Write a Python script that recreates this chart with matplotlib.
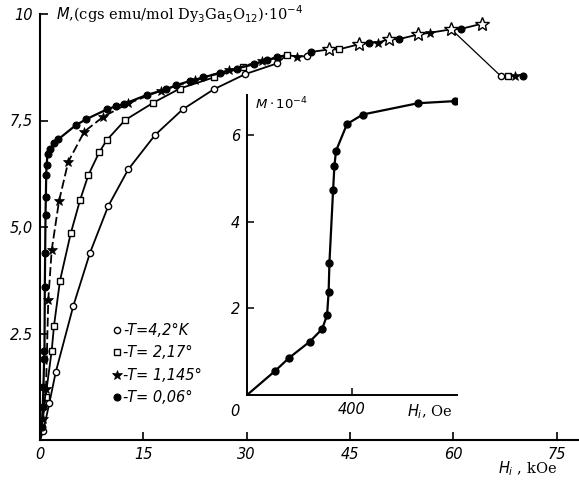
import matplotlib
matplotlib.use('Agg')
import matplotlib.pyplot as plt
from matplotlib.lines import Line2D

# main plot: M (10^-4 cgs emu/mol) vs H_i (kOe), one list pair per temperature
circ_H = [0.0, 0.48, 1.35, 2.28, 4.84, 7.27, 9.9, 12.8, 16.7, 20.7, 25.2, 29.8, 34.4]
circ_M = [0.0, 0.22, 0.86, 1.59, 3.15, 4.40, 5.49, 6.35, 7.16, 7.76, 8.23, 8.59, 8.84]

sq_H = [0.0, 0.8, 1.7, 2.03, 2.9, 4.46, 5.81, 7.02, 8.58, 9.69, 12.35, 16.47, 20.3, 25.2, 29.5]
sq_M = [0.0, 1.0, 2.1, 2.68, 3.74, 4.85, 5.63, 6.22, 6.75, 7.04, 7.51, 7.92, 8.25, 8.51, 8.76]

star_H = [0.0, 0.4, 0.87, 1.2, 1.7, 2.76, 4.1, 6.43, 9.2, 12.8, 17.5, 22.5, 27.5, 32.2]
star_M = [0.0, 0.5, 1.2, 3.29, 4.46, 5.61, 6.53, 7.24, 7.59, 7.9, 8.2, 8.45, 8.68, 8.9]

fill_H = [0.0, 0.25, 0.4, 0.5, 0.6, 0.65, 0.7, 0.75, 0.8, 0.85, 0.9, 0.95, 1.1, 1.45, 2.03, 2.66,
          5.2, 6.7, 9.7, 11.1, 12.2, 15.5, 18.3, 19.8, 21.8, 23.7, 26.1, 28.6, 31.0, 32.9, 34.4]
fill_M = [0.0, 0.31, 0.78, 1.25, 1.9, 2.1, 3.6, 4.4, 5.28, 5.71, 6.22, 6.45, 6.71, 6.82, 6.97, 7.06,
          7.39, 7.53, 7.76, 7.84, 7.89, 8.10, 8.23, 8.33, 8.43, 8.51, 8.62, 8.72, 8.82, 8.92, 8.98]

# high field part where all curves merge
hi_H = [35.8, 37.3, 38.7, 39.4, 42.0, 43.4, 46.3, 47.8, 49.1, 50.6, 52.1, 54.9, 56.6, 59.7, 61.1, 64.1]
hi_M = [9.04, 9.00, 9.01, 9.11, 9.17, 9.17, 9.29, 9.33, 9.33, 9.41, 9.41, 9.52, 9.56, 9.64, 9.65, 9.77]
hi_kind = ['sq', 'star', 'circ', 'fill', 'open_star', 'sq', 'open_star', 'fill', 'star',
           'open_star', 'fill', 'open_star', 'star', 'open_star', 'fill', 'open_star']

# separate points at the right (after the drop)
tail_H = [66.9, 67.9, 69.0, 70.1]
tail_M = [8.54, 8.54, 8.54, 8.54]
tail_kind = ['circ', 'sq', 'star', 'fill']

# inset: T = 0.06 K, low field, Oe
ins_H = [0, 108, 159, 239, 286, 305, 311, 314, 328, 333, 339, 381, 441, 651, 794]
ins_M = [0, 0.56, 0.85, 1.23, 1.52, 1.84, 2.38, 3.05, 4.73, 5.28, 5.63, 6.25, 6.47, 6.73, 6.78]

legend_labels = ['-T=4,2°K', '-T= 2,17°', '-T= 1,145°', '-T= 0,06°']

STYLE = {
    'circ': dict(marker='o', ms=4.5, mfc='white', mec='black', mew=1.0),
    'sq': dict(marker='s', ms=4.2, mfc='white', mec='black', mew=1.0),
    'star': dict(marker='*', ms=7, mfc='black', mec='black', mew=0.5),
    'fill': dict(marker='o', ms=5, mfc='black', mec='black', mew=0.8),
    'open_star': dict(marker='*', ms=10, mfc='white', mec='black', mew=1.0),
}

fig = plt.figure(figsize=(5.79, 4.82), dpi=100)
W, Hpx = 579, 482
ax = fig.add_axes([40 / W, 42 / Hpx, 539 / W, 426 / Hpx])

lw = 1.3
ax.plot(circ_H + hi_H[:1], circ_M + hi_M[:1], color='black', lw=lw,
        markevery=list(range(1, len(circ_H))), zorder=2, **STYLE['circ'])
ax.plot(sq_H + hi_H[:1], sq_M + hi_M[:1], color='black', lw=lw,
        markevery=list(range(1, len(sq_H))), zorder=2, **STYLE['sq'])
ax.plot(star_H + hi_H[:1], star_M + hi_M[:1], color='black', lw=lw, ls=(0, (5, 2)),
        markevery=list(range(1, len(star_H))), zorder=3, **STYLE['star'])
ax.plot(fill_H + hi_H[:1], fill_M + hi_M[:1], color='black', lw=lw + 0.3,
        markevery=list(range(1, len(fill_H))), zorder=3, **STYLE['fill'])

ax.plot(hi_H, hi_M, color='black', lw=lw, zorder=2)
for h, m, k in zip(hi_H, hi_M, hi_kind):
    ax.plot([h], [m], ls='none', zorder=4, **STYLE[k])

# thin line dropping to the tail points
ax.plot([hi_H[13], tail_H[0]], [hi_M[13], tail_M[0]], color='black', lw=0.9, zorder=1)
for h, m, k in zip(tail_H, tail_M, tail_kind):
    ax.plot([h], [m], ls='none', zorder=4, **STYLE[k])

ax.set_xlim(0, 539 / 6.89)
ax.set_ylim(0, 10)
for s in ['top', 'right']:
    ax.spines[s].set_visible(False)
for s in ['left', 'bottom']:
    ax.spines[s].set_linewidth(1.5)
ax.set_xticks([0, 15, 30, 45, 60, 75])
ax.set_xticklabels(['0', '15', '30', '45', '60', '75'])
ax.set_yticks([2.5, 5, 7.5, 10])
ax.set_yticklabels(['2.5', '5,0', '7,5', '10'])
ax.tick_params(direction='in', length=6, width=1.2, labelsize=10.5, pad=5)
for t in ax.get_xticklabels() + ax.get_yticklabels():
    t.set_fontstyle('italic')

ax.text(2.3, 10.0, r'$M$,(cgs emu/mol Dy$_3$Ga$_5$O$_{12}$)$\cdot$10$^{-4}$',
        fontsize=10.5, ha='left', va='center', family='DejaVu Serif')
ax.text(75.0, -0.68, r'$H_i$ , kOe', fontsize=10.5, ha='right', va='center', family='DejaVu Serif')

handles = [Line2D([], [], ls='none', color='black', **STYLE[k]) for k in ['circ', 'sq', 'star', 'fill']]
leg = ax.legend(handles, legend_labels, loc='upper left', bbox_to_anchor=(0.11, 0.305),
                frameon=False, handlelength=0.6, handletextpad=0.15, labelspacing=0.5,
                prop={'size': 10.5, 'style': 'italic'})

# inset
ins = fig.add_axes([247 / W, 87 / Hpx, 210 / W, 300 / Hpx])
ins.plot(ins_H, ins_M, color='black', lw=1.6, marker='o', ms=5, mfc='black',
         markevery=list(range(1, len(ins_H))))
ins.set_xlim(0, 800)
ins.set_ylim(0, 6.92)
for s in ['top', 'right']:
    ins.spines[s].set_visible(False)
for s in ['left', 'bottom']:
    ins.spines[s].set_linewidth(1.4)
ins.set_xticks([400])
ins.set_xticklabels(['400'])
ins.set_yticks([2, 4, 6])
ins.set_yticklabels(['2', '4', '6'])
ins.tick_params(direction='in', length=5, width=1.1, labelsize=10.5, pad=5)
for t in ins.get_xticklabels() + ins.get_yticklabels():
    t.set_fontstyle('italic')
ins.text(-0.06, -0.03, '0', transform=ins.transAxes, fontsize=10.5, style='italic',
         ha='center', va='top')
ins.text(0.04, 0.97, r'$M\cdot10^{-4}$', transform=ins.transAxes, fontsize=9.5,
         ha='left', va='center')
ins.text(0.87, -0.055, r'$H_i$, Oe', transform=ins.transAxes, fontsize=10.5,
         ha='center', va='center', family='DejaVu Serif')

fig.savefig('out.png', dpi=100)
